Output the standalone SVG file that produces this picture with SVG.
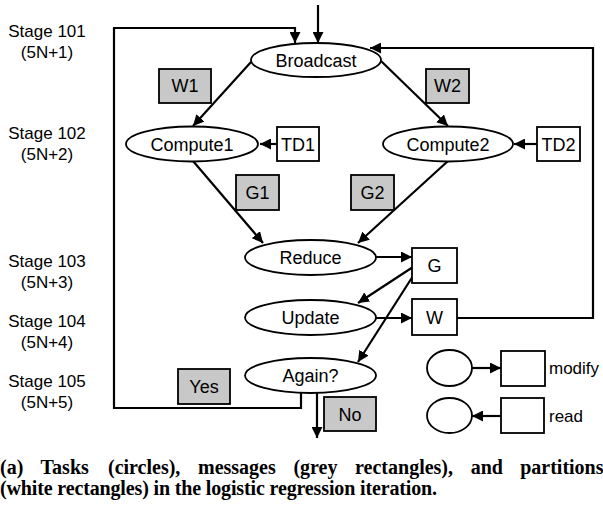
<svg xmlns="http://www.w3.org/2000/svg" width="603" height="510" viewBox="0 0 603 510">
<style>
.t{font-family:"Liberation Sans",Arial,sans-serif;font-size:18px;fill:#000;text-anchor:middle}
.s{font-family:"Liberation Sans",Arial,sans-serif;font-size:17px;fill:#000;text-anchor:middle}
.l{font-family:"Liberation Sans",Arial,sans-serif;font-size:17px;fill:#000}
.task{fill:#fff;stroke:#000;stroke-width:1.8}
.msg{fill:#c8c8c8;stroke:#000;stroke-width:1.8}
.part{fill:#fff;stroke:#000;stroke-width:1.8}
.a{fill:none;stroke:#000;stroke-width:2.2;marker-end:url(#ah)}
.cap{font-family:"Liberation Serif","Times New Roman",serif;font-size:20px;font-weight:bold;fill:#000}
</style>
<defs>
<marker id="ah" viewBox="0 0 10 10" refX="10" refY="5" markerWidth="5" markerHeight="5" orient="auto" markerUnits="strokeWidth">
<path d="M0,0 L10,5 L0,10 z" fill="#000"/>
</marker>
</defs>
<rect width="603" height="510" fill="#fff"/>

<g id="stages">
<text class="s" x="47" y="37">Stage 101</text><text class="s" x="47" y="58">(5N+1)</text>
<text class="s" x="47" y="139">Stage 102</text><text class="s" x="47" y="160">(5N+2)</text>
<text class="s" x="47" y="267">Stage 103</text><text class="s" x="47" y="288">(5N+3)</text>
<text class="s" x="47" y="327">Stage 104</text><text class="s" x="47" y="348">(5N+4)</text>
<text class="s" x="47" y="387">Stage 105</text><text class="s" x="47" y="408">(5N+5)</text>
</g>

<g id="connectors">
<path class="a" d="M318,5 L318,43"/>
<path class="a" d="M301,393 L301,408 L114,408 L114,28 L295,28 L295,43"/>
<path class="a" d="M457,318 L593,318 L593,48 L370,48"/>
<path class="a" d="M251,62 L193,126"/>
<path class="a" d="M381,61 L448,126"/>
<path class="a" d="M277,144 L260,144"/>
<path class="a" d="M537,144 L514,144"/>
<path class="a" d="M193,161 L263,243"/>
<path class="a" d="M448,161 L358,243"/>
<path class="a" d="M376,257 L412,257"/>
<path class="a" d="M413,267 L358,303"/>
<path class="a" d="M376,318 L412,318"/>
<path class="a" d="M413,276 L358,362"/>
<path class="a" d="M317,393 L317,438"/>
<path class="a" d="M472,368 L501,368"/>
<path class="a" d="M501,416 L472,416"/>
</g>

<g id="broadcast"><ellipse class="task" cx="316" cy="60" rx="65" ry="17"/><text class="t" x="316" y="67">Broadcast</text></g>
<g id="w1"><rect class="msg" x="159" y="69" width="52" height="34"/><text class="t" x="185" y="92">W1</text></g>
<g id="w2"><rect class="msg" x="426" y="69" width="43" height="34"/><text class="t" x="447.5" y="92">W2</text></g>
<g id="compute1"><ellipse class="task" cx="192" cy="144" rx="66" ry="17.5"/><text class="t" x="192" y="151">Compute1</text></g>
<g id="td1"><rect class="part" x="277" y="127" width="42" height="34"/><text class="t" x="298" y="151">TD1</text></g>
<g id="compute2"><ellipse class="task" cx="448" cy="144" rx="65" ry="17.5"/><text class="t" x="448" y="151">Compute2</text></g>
<g id="td2"><rect class="part" x="537" y="127" width="43" height="34"/><text class="t" x="558.5" y="151">TD2</text></g>
<g id="g1"><rect class="msg" x="236" y="175" width="43" height="35"/><text class="t" x="257.5" y="199">G1</text></g>
<g id="g2"><rect class="msg" x="351" y="175" width="43" height="35"/><text class="t" x="372.5" y="199">G2</text></g>
<g id="reduce"><ellipse class="task" cx="310.5" cy="257.5" rx="65.5" ry="17.5"/><text class="t" x="310.5" y="264">Reduce</text></g>
<g id="g"><rect class="part" x="412" y="248" width="45" height="35"/><text class="t" x="434.5" y="272">G</text></g>
<g id="update"><ellipse class="task" cx="310.5" cy="317.5" rx="65.5" ry="17.5"/><text class="t" x="310.5" y="324">Update</text></g>
<g id="w"><rect class="part" x="412" y="299" width="45" height="36"/><text class="t" x="434.5" y="324">W</text></g>
<g id="again"><ellipse class="task" cx="310.5" cy="375.5" rx="65.5" ry="17.5"/><text class="t" x="310.5" y="382">Again?</text></g>
<g id="yes"><rect class="msg" x="178" y="369" width="52" height="35"/><text class="t" x="204" y="393">Yes</text></g>
<g id="no"><rect class="msg" x="324" y="397" width="52" height="34"/><text class="t" x="350" y="421">No</text></g>

<g id="legend">
<ellipse class="task" cx="449.5" cy="368" rx="22.5" ry="18"/>
<rect class="part" x="501" y="351" width="44" height="35"/>
<text class="l" x="549" y="374">modify</text>
<ellipse class="task" cx="449.5" cy="415.5" rx="22.5" ry="17.5"/>
<rect class="part" x="501" y="398" width="43" height="35"/>
<text class="l" x="549" y="422">read</text>
</g>

<g id="caption">
<text class="cap" y="474"><tspan x="0">(a)</tspan><tspan x="40.6">Tasks</tspan><tspan x="108">(circles),</tspan><tspan x="198">messages</tspan><tspan x="293.4">(grey</tspan><tspan x="355.1">rectangles),</tspan><tspan x="470.7">and</tspan><tspan x="520.2">partitions</tspan></text>
<text class="cap" x="0" y="495" textLength="437" lengthAdjust="spacing">(white rectangles) in the logistic regression iteration.</text>
</g>
</svg>
